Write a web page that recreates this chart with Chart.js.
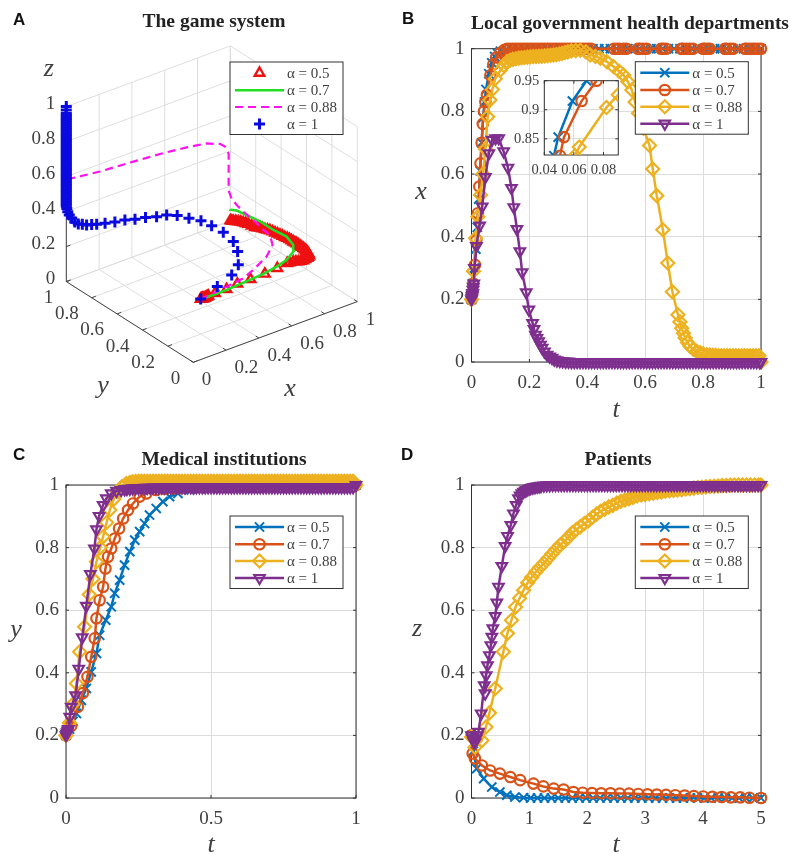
<!DOCTYPE html>
<html>
<head>
<meta charset="utf-8">
<script src="https://cdn.jsdelivr.net/npm/chart.js@4"></script>
<style>
body { margin: 0; background: #fff; }
canvas { position: absolute; }
</style>
</head>
<body>
<canvas id="chartA" width="395" height="425" style="left:0;top:0"></canvas>
<canvas id="chartB" width="391" height="425" style="left:400px;top:0"></canvas>
<canvas id="inset" width="125" height="120" style="left:500px;top:60px"></canvas>
<canvas id="chartC" width="395" height="424" style="left:0;top:430px"></canvas>
<canvas id="chartD" width="391" height="424" style="left:400px;top:430px"></canvas>
<script>
// legend labels and tick labels
const alphaLabels = ['α = 0.5', 'α = 0.7', 'α = 0.88', 'α = 1'];
const shareTicks = [0, 0.2, 0.4, 0.6, 0.8, 1];
const tTicksB = [0, 0.2, 0.4, 0.6, 0.8, 1];
const tTicksC = [0, 0.5, 1];
const tTicksD = [0, 1, 2, 3, 4, 5];
const insetTTicks = [0.04, 0.06, 0.08];
const insetVTicks = [0.85, 0.9, 0.95];

// panel A, the (x, y, z) paths
const a05X = [0.2,0.205,0.21,0.215,0.22,0.225,0.23,0.24,0.25,0.26,0.27,0.322,0.401,0.486,0.586,0.695,0.788,0.867,0.885,0.911,0.926,0.941,0.959,0.977,0.989,1,1,1,1,1,1,1,1,1,1,1,1,1,1,1,1,1,1,1,1,1,1,1,1,1,1,1,1,1,1,1,1,1,1,1,1,1,1,1,1,1];
const a05Y = [0.2,0.2,0.205,0.205,0.21,0.21,0.21,0.215,0.22,0.225,0.23,0.245,0.256,0.281,0.306,0.334,0.356,0.38,0.385,0.389,0.388,0.388,0.392,0.395,0.395,0.394,0.386,0.378,0.382,0.386,0.395,0.404,0.414,0.425,0.438,0.451,0.464,0.478,0.491,0.504,0.519,0.535,0.552,0.57,0.59,0.609,0.628,0.648,0.668,0.688,0.707,0.727,0.746,0.766,0.786,0.806,0.832,0.858,0.878,0.898,0.918,0.937,0.957,0.976,0.988,1];
const a05Z = [0.2,0.198,0.196,0.195,0.193,0.191,0.19,0.187,0.185,0.182,0.18,0.17,0.16,0.15,0.13,0.11,0.1,0.09,0.085,0.08,0.075,0.07,0.065,0.06,0.063,0.067,0.077,0.087,0.093,0.099,0.102,0.105,0.107,0.109,0.11,0.11,0.111,0.112,0.111,0.11,0.11,0.11,0.108,0.105,0.103,0.101,0.098,0.095,0.092,0.089,0.084,0.078,0.074,0.069,0.061,0.053,0.05,0.048,0.043,0.038,0.032,0.025,0.018,0.01,0.006,0.002];
const a07X = [0.2,0.294,0.387,0.483,0.569,0.668,0.774,0.863,0.951,1,1,1,1,1,1,1,1];
const a07Y = [0.2,0.223,0.237,0.27,0.289,0.311,0.343,0.38,0.44,0.504,0.556,0.66,0.766,0.871,0.95,0.997,1];
const a07Z = [0.2,0.18,0.17,0.15,0.14,0.13,0.12,0.11,0.1,0.091,0.115,0.105,0.105,0.093,0.082,0.065,0.065];
const a088X = [0.2,0.283,0.398,0.49,0.568,0.69,0.773,1,1,1,1,1,1,0.99,0.99,0.99,0.99,0.967,0.937,0.896,0.856,0.795,0.734,0.653,0.571,0.49,0.409,0.307,0.205,0.104,0.033,0];
const a088Y = [0.2,0.208,0.225,0.239,0.262,0.314,0.374,0.688,0.74,0.819,0.898,0.95,0.99,1,1,1,1,1,1,1,1,1,1,1,1,1,1,1,1,1,1,1];
const a088Z = [0.2,0.2,0.2,0.2,0.21,0.22,0.23,0.064,0.069,0.09,0.1,0.114,0.133,0.177,0.272,0.349,0.387,0.436,0.462,0.476,0.493,0.503,0.512,0.522,0.531,0.537,0.544,0.551,0.558,0.57,0.579,0.581];
const a1X = [0.2,0.34,0.444,0.499,0.577,0.621,0.639,0.633,0.602,0.538,0.478,0.43,0.381,0.322,0.271,0.218,0.167,0.131,0.104,0.088,0.072,0.059,0.046,0.034,0.023,0.012,0.005,0,0,0,0,0,0,0,0,0,0,0,0,0,0,0,0,0,0,0,0,0,0,0,0,0,0,0,0,0,0,0,0,0,0,0,0,0,0,0,0,0,0,0,0,0,0,0,0,0,0,0,0,0,0,0,0,0];
const a1Y = [0.2,0.25,0.271,0.29,0.396,0.487,0.589,0.673,0.717,0.729,0.744,0.765,0.781,0.792,0.809,0.82,0.833,0.864,0.895,0.914,0.933,0.95,0.965,0.977,0.987,0.992,0.995,0.996,1,1,1,1,1,1,1,1,1,1,1,1,1,1,1,1,1,1,1,1,1,1,1,1,1,1,1,1,1,1,1,1,1,1,1,1,1,1,1,1,1,1,1,1,1,1,1,1,1,1,1,1,1,1,1,1];
const a1Z = [0.2,0.2,0.22,0.25,0.25,0.25,0.25,0.25,0.27,0.3,0.33,0.34,0.34,0.35,0.35,0.36,0.36,0.35,0.34,0.335,0.33,0.33,0.33,0.34,0.36,0.38,0.4,0.42,0.43,0.44,0.45,0.46,0.47,0.48,0.49,0.5,0.51,0.52,0.53,0.54,0.55,0.56,0.57,0.58,0.59,0.6,0.61,0.62,0.63,0.64,0.65,0.66,0.67,0.68,0.69,0.7,0.71,0.72,0.73,0.74,0.75,0.76,0.77,0.78,0.79,0.8,0.81,0.82,0.83,0.84,0.85,0.86,0.87,0.88,0.89,0.9,0.91,0.92,0.93,0.94,0.95,0.96,0.98,1];

// panel B, x against t
const b05T = [0,0.005,0.01,0.015,0.02,0.025,0.03,0.035,0.04,0.045,0.05,0.06,0.07,0.08,0.09,0.1,0.12,0.14,0.16,0.18,0.2,0.22,0.24,0.26,0.28,0.3,0.32,0.34,0.36,0.38,0.4,0.42,0.44,0.46,0.48,0.5,0.52,0.54,0.56,0.58,0.6,0.62,0.64,0.66,0.68,0.7,0.72,0.74,0.76,0.78,0.8,0.82,0.84,0.86,0.88,0.9,0.92,0.94,0.96,0.98,1];
const b05V = [0.2,0.25,0.3,0.36,0.43,0.52,0.61,0.7,0.78,0.83,0.87,0.92,0.955,0.975,0.985,0.992,0.998,1,1,1,1,1,1,1,1,1,1,1,1,1,1,1,1,1,1,1,1,1,1,1,1,1,1,1,1,1,1,1,1,1,1,1,1,1,1,1,1,1,1,1,1];
const b07T = [0,0.006,0.012,0.017,0.022,0.027,0.031,0.035,0.039,0.043,0.048,0.0533,0.0652,0.0753,0.085,0.1,0.113,0.123,0.133,0.143,0.153,0.163,0.173,0.183,0.193,0.203,0.213,0.223,0.233,0.243,0.253,0.263,0.273,0.283,0.293,0.303,0.313,0.323,0.333,0.343,0.353,0.363,0.373,0.383,0.393,0.403,0.413,0.492,0.502,0.512,0.525,0.535,0.575,0.582,0.593,0.605,0.655,0.662,0.672,0.725,0.731,0.742,0.754,0.765,0.8,0.806,0.815,0.823,0.875,0.881,0.893,0.904,0.945,0.95,0.96,0.97,0.979,0.99,1];
const b07V = [0.2,0.25,0.31,0.39,0.475,0.56,0.634,0.7,0.76,0.8,0.83,0.853,0.915,0.95,0.972,0.988,0.996,1,1,1,1,1,1,1,1,1,1,1,1,1,1,1,1,1,1,1,1,1,1,1,1,1,1,1,1,1,1,1,1,1,1,1,1,1,1,1,1,1,1,1,1,1,1,1,1,1,1,1,1,1,1,1,1,1,1,1,1,1,1];
const b088T = [0,0.007,0.014,0.022,0.031,0.04,0.048,0.056,0.0636,0.072,0.082,0.1,0.112,0.123,0.133,0.143,0.153,0.163,0.173,0.183,0.193,0.203,0.213,0.223,0.233,0.243,0.253,0.263,0.273,0.283,0.293,0.303,0.313,0.323,0.333,0.345,0.36,0.376,0.395,0.41,0.428,0.445,0.468,0.49,0.51,0.525,0.54,0.554,0.565,0.577,0.594,0.615,0.626,0.64,0.661,0.678,0.694,0.713,0.72,0.726,0.732,0.738,0.746,0.755,0.766,0.778,0.79,0.8,0.813,0.823,0.833,0.843,0.853,0.863,0.873,0.883,0.893,0.903,0.913,0.923,0.933,0.943,0.953,0.963,0.973,0.983,0.993,1];
const b088V = [0.2,0.29,0.395,0.464,0.533,0.6,0.68,0.783,0.836,0.87,0.904,0.932,0.946,0.959,0.963,0.966,0.968,0.97,0.971,0.972,0.973,0.974,0.975,0.975,0.976,0.976,0.977,0.978,0.979,0.98,0.981,0.983,0.985,0.988,0.99,0.993,0.994,0.995,0.99,0.98,0.975,0.97,0.958,0.943,0.928,0.916,0.895,0.868,0.83,0.794,0.746,0.691,0.616,0.531,0.422,0.316,0.224,0.151,0.128,0.108,0.092,0.077,0.062,0.05,0.041,0.034,0.029,0.026,0.023,0.022,0.021,0.021,0.02,0.02,0.02,0.02,0.02,0.02,0.02,0.02,0.02,0.02,0.02,0.02,0.02,0.02,0.02,0];
const b1T = [0,0.001,0.002,0.003,0.004,0.005,0.006,0.008,0.01,0.017,0.028,0.037,0.048,0.06,0.071,0.083,0.094,0.111,0.126,0.138,0.146,0.157,0.167,0.175,0.189,0.198,0.211,0.216,0.221,0.226,0.232,0.238,0.244,0.252,0.261,0.27,0.278,0.286,0.295,0.305,0.315,0.325,0.335,0.345,0.355,0.365,0.375,0.385,0.395,0.405,0.415,0.425,0.435,0.445,0.455,0.465,0.475,0.485,0.495,0.505,0.515,0.525,0.535,0.545,0.555,0.565,0.575,0.585,0.595,0.605,0.615,0.625,0.635,0.645,0.655,0.665,0.675,0.685,0.695,0.705,0.715,0.725,0.735,0.745,0.755,0.765,0.775,0.785,0.795,0.805,0.815,0.825,0.835,0.845,0.855,0.865,0.875,0.885,0.895,0.905,0.915,0.925,0.935,0.945,0.955,0.965,0.975,0.985,0.995,1];
const b1V = [0.2,0.205,0.21,0.215,0.22,0.23,0.24,0.25,0.3,0.37,0.435,0.496,0.59,0.666,0.709,0.714,0.714,0.672,0.62,0.555,0.494,0.424,0.353,0.286,0.222,0.167,0.124,0.105,0.087,0.076,0.066,0.055,0.045,0.033,0.023,0.017,0.013,0.008,0.005,0.003,0.002,0.001,0.001,0,0,0,0,0,0,0,0,0,0,0,0,0,0,0,0,0,0,0,0,0,0,0,0,0,0,0,0,0,0,0,0,0,0,0,0,0,0,0,0,0,0,0,0,0,0,0,0,0,0,0,0,0,0,0,0,0,0,0,0,0,0,0,0,0,0,0];

// zoomed part of panel B
const in05T = [0.0465,0.0494,0.059,0.0685];
const in05V = [0.821,0.853,0.915,0.95];
const in07T = [0.0506,0.0533,0.0652,0.0753];
const in07V = [0.821,0.853,0.915,0.95];
const in088T = [0.0607,0.0636,0.082,0.09];
const in088V = [0.821,0.836,0.904,0.926];

// panel C, y against t
const c05T = [0,0.012,0.024,0.036,0.053,0.07,0.087,0.105,0.116,0.137,0.156,0.168,0.185,0.202,0.22,0.237,0.254,0.271,0.288,0.311,0.334,0.357,0.386,0.426,0.46,0.5,0.54,0.58,0.62,0.66,0.7,0.74,0.78,0.82,0.86,0.9,0.94,0.98,1];
const c05V = [0.2,0.22,0.245,0.27,0.312,0.35,0.403,0.462,0.52,0.568,0.611,0.654,0.696,0.744,0.787,0.824,0.851,0.877,0.904,0.925,0.947,0.963,0.973,0.984,0.988,0.99,0.992,0.994,0.995,0.996,0.997,0.998,0.998,0.999,0.999,1,1,1,1];
const c07T = [0,0.018,0.041,0.058,0.074,0.087,0.099,0.105,0.116,0.128,0.136,0.145,0.156,0.168,0.183,0.197,0.214,0.231,0.254,0.277,0.311,0.34,0.37,0.4,0.44,0.48,0.52,0.56,0.6,0.64,0.68,0.72,0.76,0.8,0.84,0.88,0.92,0.96,1];
const c07V = [0.2,0.23,0.291,0.335,0.387,0.451,0.51,0.574,0.632,0.675,0.733,0.771,0.797,0.829,0.861,0.893,0.92,0.941,0.963,0.973,0.984,0.987,0.989,0.99,0.992,0.994,0.995,0.996,0.997,0.998,0.998,0.999,0.999,1,1,1,1,1,1];
const c088T = [0,0.012,0.024,0.036,0.047,0.064,0.08,0.093,0.105,0.118,0.128,0.14,0.151,0.165,0.179,0.193,0.208,0.22,0.23,0.24,0.25,0.26,0.27,0.28,0.29,0.3,0.31,0.32,0.33,0.34,0.35,0.36,0.37,0.38,0.39,0.4,0.41,0.42,0.43,0.44,0.45,0.46,0.47,0.48,0.49,0.5,0.51,0.52,0.53,0.54,0.55,0.56,0.57,0.58,0.59,0.6,0.61,0.62,0.63,0.64,0.65,0.66,0.67,0.68,0.69,0.7,0.71,0.72,0.73,0.74,0.75,0.76,0.77,0.78,0.79,0.8,0.81,0.82,0.83,0.84,0.85,0.86,0.87,0.88,0.89,0.9,0.91,0.92,0.93,0.94,0.95,0.96,0.97,0.98,0.99,1];
const c088V = [0.2,0.24,0.3,0.366,0.467,0.547,0.65,0.7,0.755,0.8,0.835,0.88,0.92,0.955,0.979,0.995,1.005,1.008,1.01,1.011,1.012,1.012,1.012,1.012,1.012,1.012,1.012,1.012,1.012,1.012,1.012,1.012,1.012,1.012,1.012,1.012,1.012,1.012,1.012,1.012,1.012,1.012,1.012,1.012,1.012,1.012,1.012,1.012,1.012,1.012,1.012,1.012,1.012,1.012,1.012,1.012,1.012,1.012,1.012,1.012,1.012,1.012,1.012,1.012,1.012,1.012,1.012,1.012,1.012,1.012,1.012,1.012,1.012,1.012,1.012,1.012,1.012,1.012,1.012,1.012,1.012,1.012,1.012,1.012,1.012,1.012,1.012,1.012,1.012,1.012,1.012,1.012,1.012,1.012,1.012,1];
const c1T = [0,0.002,0.004,0.006,0.008,0.013,0.018,0.033,0.044,0.056,0.07,0.084,0.098,0.105,0.114,0.128,0.139,0.156,0.174,0.19,0.202,0.21,0.22,0.23,0.24,0.25,0.26,0.27,0.28,0.29,0.3,0.31,0.32,0.33,0.34,0.35,0.36,0.37,0.38,0.39,0.4,0.41,0.42,0.43,0.44,0.45,0.46,0.47,0.48,0.49,0.5,0.51,0.52,0.53,0.54,0.55,0.56,0.57,0.58,0.59,0.6,0.61,0.62,0.63,0.64,0.65,0.66,0.67,0.68,0.69,0.7,0.71,0.72,0.73,0.74,0.75,0.76,0.77,0.78,0.79,0.8,0.81,0.82,0.83,0.84,0.85,0.86,0.87,0.88,0.89,0.9,0.91,0.92,0.93,0.94,0.95,0.96,0.97,0.98,0.99,1];
const c1V = [0.2,0.205,0.21,0.215,0.22,0.259,0.291,0.328,0.413,0.513,0.614,0.715,0.797,0.858,0.901,0.936,0.957,0.973,0.981,0.984,0.986,0.987,0.988,0.989,0.99,0.99,0.99,0.991,0.991,0.991,0.992,0.992,0.992,0.992,0.992,0.993,0.993,0.993,0.993,0.993,0.993,0.993,0.993,0.993,0.993,0.993,0.993,0.993,0.993,0.993,0.993,0.993,0.993,0.993,0.993,0.993,0.993,0.993,0.993,0.993,0.993,0.993,0.993,0.993,0.993,0.993,0.993,0.993,0.993,0.993,0.993,0.993,0.993,0.993,0.993,0.993,0.993,0.993,0.993,0.993,0.993,0.993,0.993,0.993,0.993,0.993,0.993,0.993,0.993,0.993,0.993,0.993,0.993,0.993,0.993,0.993,0.993,0.993,0.993,0.993,1];

// panel D, z against t
const d05T = [0,0.03,0.09,0.21,0.35,0.49,0.61,0.75,0.9,1.02,1.14,1.26,1.38,1.5,1.62,1.74,1.86,1.98,2.1,2.22,2.34,2.46,2.58,2.7,2.82,2.94,3.06,3.18,3.3,3.42,3.54,3.66,3.78,3.9,4.02,4.14,4.26,4.38,4.5,4.62,4.74,4.86,5];
const d05V = [0.2,0.15,0.094,0.062,0.035,0.019,0.009,0.003,0.001,0,0,0,0,0,0,0,0,0,0,0,0,0,0,0,0,0,0,0,0,0,0,0,0,0,0,0,0,0,0,0,0,0,0];
const d07T = [0,0.02,0.06,0.18,0.32,0.49,0.67,0.84,1.07,1.24,1.42,1.59,1.76,1.92,2.08,2.24,2.4,2.56,2.72,2.88,3.04,3.2,3.36,3.52,3.68,3.84,4,4.16,4.32,4.48,4.64,4.8,5];
const d07V = [0.2,0.142,0.126,0.104,0.088,0.078,0.067,0.057,0.046,0.037,0.03,0.027,0.019,0.017,0.016,0.015,0.015,0.014,0.014,0.013,0.012,0.011,0.01,0.009,0.008,0.006,0.005,0.004,0.003,0.002,0.002,0.001,0];
const d088T = [0,0.06,0.18,0.25,0.31,0.41,0.55,0.62,0.69,0.76,0.83,0.9,0.97,1.04,1.11,1.18,1.25,1.32,1.39,1.46,1.53,1.6,1.67,1.74,1.81,1.88,1.95,2.02,2.09,2.16,2.23,2.3,2.37,2.44,2.51,2.58,2.65,2.72,2.79,2.86,2.93,3,3.07,3.14,3.21,3.28,3.35,3.42,3.49,3.56,3.63,3.7,3.77,3.84,3.91,3.98,4.05,4.12,4.19,4.26,4.33,4.4,4.47,4.54,4.61,4.68,4.75,4.82,4.89,4.96,5];
const d088V = [0.195,0.162,0.184,0.227,0.272,0.35,0.467,0.526,0.568,0.61,0.638,0.664,0.688,0.705,0.722,0.737,0.75,0.765,0.78,0.795,0.808,0.82,0.832,0.847,0.858,0.867,0.877,0.886,0.897,0.907,0.916,0.923,0.93,0.935,0.942,0.948,0.952,0.956,0.96,0.965,0.968,0.97,0.972,0.974,0.976,0.978,0.98,0.982,0.983,0.984,0.985,0.987,0.988,0.99,0.992,0.993,0.994,0.995,0.996,0.997,0.998,0.998,0.999,1,1,1,1,1,1,1,1];
const d1T = [0,0.02,0.04,0.06,0.08,0.1,0.12,0.167,0.22,0.236,0.253,0.276,0.31,0.334,0.351,0.368,0.41,0.437,0.466,0.524,0.581,0.622,0.679,0.725,0.771,0.811,0.84,0.869,0.9,0.93,0.955,0.99,1.02,1.05,1.08,1.11,1.14,1.17,1.2,1.25,1.3,1.35,1.4,1.45,1.5,1.55,1.6,1.65,1.7,1.75,1.8,1.85,1.9,1.95,2,2.05,2.1,2.15,2.2,2.25,2.3,2.35,2.4,2.45,2.5,2.55,2.6,2.65,2.7,2.75,2.8,2.85,2.9,2.95,3,3.05,3.1,3.15,3.2,3.25,3.3,3.35,3.4,3.45,3.5,3.55,3.6,3.65,3.7,3.75,3.8,3.85,3.9,3.95,4,4.05,4.1,4.15,4.2,4.25,4.3,4.35,4.4,4.45,4.5,4.55,4.6,4.65,4.7,4.75,4.8,4.85,4.9,4.95,5];
const d1V = [0.2,0.19,0.18,0.178,0.19,0.2,0.211,0.27,0.36,0.334,0.392,0.424,0.456,0.488,0.515,0.542,0.581,0.624,0.675,0.741,0.805,0.837,0.872,0.909,0.936,0.957,0.966,0.973,0.978,0.982,0.984,0.988,0.99,0.992,0.993,0.994,0.995,0.996,0.997,0.998,0.999,0.999,1,1,1,1,1,1,1,1,1,1,1,1,1,1,1,1,1,1,1,1,1,1,1,1,1,1,1,1,1,1,1,1,1,1,1,1,1,1,1,1,1,1,1,1,1,1,1,1,1,1,1,1,1,1,1,1,1,1,1,1,1,1,1,1,1,1,1,1,1,1,1,1,1];

const serif = '"Liberation Serif", serif';
const inkColor = '#404040';
const matlabStyles = [
    { color: '#0072BD', pointStyle: 'crossRot', radius: 6.5, borderWidth: 2, rotation: 0 },
    { color: '#D95319', pointStyle: 'circle', radius: 5.2, borderWidth: 2.2, rotation: 0 },
    { color: '#EDB120', pointStyle: 'rectRot', radius: 6.5, borderWidth: 2.2, rotation: 0 },
    { color: '#7E2F8E', pointStyle: 'triangle', radius: 6, borderWidth: 2.2, rotation: 180 }
];
const styles3d = [
    { color: '#EE1111', pointStyle: 'triangle', radius: 5.5, borderWidth: 2.4, rotation: 0, noLine: true },
    { color: '#22DD22', lineWidth: 2.5, noPoint: true },
    { color: '#FF11EE', lineWidth: 2.2, dash: [8, 5], noPoint: true },
    { color: '#0A0AE0', pointStyle: 'cross', radius: 5.5, borderWidth: 3, rotation: 0, noLine: true }
];

function drawMarker(ctx, s, x, y) {
    ctx.save();
    ctx.strokeStyle = s.color;
    ctx.fillStyle = 'rgba(0,0,0,0)';
    ctx.lineWidth = s.borderWidth;
    Chart.helpers.drawPoint(ctx, s, x, y);
    ctx.restore();
}

// box ticks, panel text and the legend
const panelDeco = {
    id: 'panelDeco',
    beforeDatasetsDraw(chart, args, opts) {
        if (!opts.box) return;
        const ctx = chart.ctx, a = chart.chartArea;
        ctx.save();
        ctx.strokeStyle = '#333';
        ctx.lineWidth = 1;
        ctx.strokeRect(a.left, a.top, a.width, a.height);
        ctx.beginPath();
        chart.scales.x.ticks.forEach(t => {
            const p = chart.scales.x.getPixelForValue(t.value);
            ctx.moveTo(p, a.bottom); ctx.lineTo(p, a.bottom - 3);
            ctx.moveTo(p, a.top); ctx.lineTo(p, a.top + 3);
        });
        chart.scales.y.ticks.forEach(t => {
            const p = chart.scales.y.getPixelForValue(t.value);
            ctx.moveTo(a.left, p); ctx.lineTo(a.left + 3, p);
            ctx.moveTo(a.right, p); ctx.lineTo(a.right - 3, p);
        });
        ctx.stroke();
        ctx.restore();
    },
    afterDraw(chart, args, opts) {
        const ctx = chart.ctx;
        ctx.save();
        (opts.texts || []).forEach(t => {
            ctx.font = t.font;
            ctx.fillStyle = t.color || inkColor;
            ctx.textAlign = t.align || 'center';
            ctx.textBaseline = 'middle';
            ctx.fillText(t.text, t.x, t.y);
        });
        if (opts.legend) {
            const L = opts.legend;
            ctx.fillStyle = '#fff';
            ctx.fillRect(L.x, L.y, 113, 72.5);
            ctx.strokeStyle = '#333';
            ctx.lineWidth = 1;
            ctx.strokeRect(L.x, L.y, 113, 72.5);
            L.styles.forEach((s, i) => {
                const y = L.y + [11, 28.3, 45, 62][i];
                if (!s.noLine) {
                    ctx.save();
                    ctx.strokeStyle = s.color;
                    ctx.lineWidth = s.lineWidth || 2.5;
                    ctx.setLineDash(s.dash || []);
                    ctx.beginPath();
                    ctx.moveTo(L.x + 5, y);
                    ctx.lineTo(L.x + 54, y);
                    ctx.stroke();
                    ctx.restore();
                }
                if (!s.noPoint) drawMarker(ctx, s, L.x + 29.5, y);
                ctx.font = '15px ' + serif;
                ctx.fillStyle = inkColor;
                ctx.textAlign = 'left';
                ctx.textBaseline = 'middle';
                ctx.fillText(alphaLabels[i], L.x + 57, y + 1);
            });
        }
        ctx.restore();
    }
};
Chart.register(panelDeco);

const pts = (t, v) => t.map((x, i) => ({ x, y: v[i] }));

// Chart.js paints the lowest order last, later series have to sit on top
function stack(sets) {
    sets.forEach((d, i) => { d.order = -i; });
    return sets;
}

function lineSet(label, t, v, s) {
    return {
        label, data: pts(t, v), showLine: true, clip: false,
        borderColor: s.color, borderWidth: 2.5,
        pointStyle: s.pointStyle, pointRadius: s.radius,
        pointBorderWidth: s.borderWidth, pointRotation: s.rotation,
        pointBackgroundColor: 'rgba(0,0,0,0)', pointBorderColor: s.color
    };
}

function axis(min, max, tickList, fontSize, pad, extra) {
    return Object.assign({
        type: 'linear', min, max,
        afterBuildTicks: sc => { sc.ticks = tickList.map(value => ({ value })); },
        grid: { color: '#dcdcdc', lineWidth: 1, drawTicks: false },
        border: { display: false },
        ticks: {
            autoSkip: false, maxRotation: 0, color: inkColor, padding: pad,
            font: { family: serif, size: fontSize },
            callback: v => String(v)
        }
    }, extra);
}

// 2D panels share everything except their series and text
function makePanel(id, seriesList, tMax, tTicks, geom, deco) {
    return new Chart(document.getElementById(id), {
        type: 'scatter',
        data: { datasets: stack(seriesList.map((d, i) => lineSet(alphaLabels[i], d[0], d[1], matlabStyles[i]))) },
        options: {
            responsive: false, animation: false,
            layout: { autoPadding: false, padding: { left: 0, top: geom.top, right: geom.right, bottom: 0 } },
            plugins: { legend: { display: false }, tooltip: { enabled: false }, panelDeco: deco },
            scales: {
                x: axis(0, tMax, tTicks, 19, 10, { afterFit: s => { s.height = geom.below; } }),
                y: axis(0, 1, shareTicks, 19, 7, { afterFit: s => { s.width = geom.left; } })
            }
        }
    });
}

makePanel('chartB', [[b05T, b05V], [b07T, b07V], [b088T, b088V], [b1T, b1V]], 1, tTicksB,
    { left: 71.5, top: 48.7, right: 30, below: 63 },
    { box: true, legend: { x: 235.3, y: 61.7, styles: matlabStyles }, texts: [
        { text: 'B', x: 2, y: 19, font: 'bold 17px "Liberation Sans"', align: 'left', color: '#111' },
        { text: 'Local government health departments', x: 230, y: 24, font: 'bold 19.5px ' + serif, color: '#222' },
        { text: 'x', x: 21, y: 192, font: 'italic 26px ' + serif },
        { text: 't', x: 216, y: 410, font: 'italic 26px ' + serif }
    ] });

makePanel('chartC', [[c05T, c05V], [c07T, c07V], [c088T, c088V], [c1T, c1V]], 1, tTicksC,
    { left: 66, top: 55, right: 39, below: 56 },
    { box: true, legend: { x: 230, y: 86, styles: matlabStyles }, texts: [
        { text: 'C', x: 13, y: 25, font: 'bold 17px "Liberation Sans"', align: 'left', color: '#111' },
        { text: 'Medical institutions', x: 224, y: 30, font: 'bold 19.5px ' + serif, color: '#222' },
        { text: 'y', x: 16, y: 200, font: 'italic 26px ' + serif },
        { text: 't', x: 211, y: 415, font: 'italic 26px ' + serif }
    ] });

makePanel('chartD', [[d05T, d05V], [d07T, d07V], [d088T, d088V], [d1T, d1V]], 5, tTicksD,
    { left: 71.5, top: 55, right: 30, below: 56 },
    { box: true, legend: { x: 235.3, y: 86, styles: matlabStyles }, texts: [
        { text: 'D', x: 1, y: 25, font: 'bold 17px "Liberation Sans"', align: 'left', color: '#111' },
        { text: 'Patients', x: 218, y: 30, font: 'bold 19.5px ' + serif, color: '#222' },
        { text: 'z', x: 17, y: 199, font: 'italic 26px ' + serif },
        { text: 't', x: 216, y: 415, font: 'italic 26px ' + serif }
    ] });

// white plot background for the inset, drawn before its grid
const insetBack = {
    id: 'insetBack',
    beforeDraw(chart) {
        const a = chart.chartArea;
        chart.ctx.fillStyle = '#fff';
        chart.ctx.fillRect(a.left, a.top, a.width, a.height);
    }
};

// zoomed inset over panel B
new Chart(document.getElementById('inset'), {
    type: 'scatter',
    plugins: [insetBack],
    data: { datasets: stack([[in05T, in05V], [in07T, in07V], [in088T, in088V]].map((d, i) => {
        const ds = lineSet(alphaLabels[i], d[0], d[1], matlabStyles[i]);
        ds.clip = true;
        return ds;
    })) },
    options: {
        responsive: false, animation: false,
        layout: { autoPadding: false, padding: { left: 0, top: 20.7, right: 6.7, bottom: 0 } },
        plugins: { legend: { display: false }, tooltip: { enabled: false }, panelDeco: { box: true } },
        scales: {
            x: axis(0.04, 0.09, insetTTicks, 14.5, 6, { afterFit: s => { s.height = 25; } }),
            y: axis(0.8222, 0.95, insetVTicks, 14.5, 5, { afterFit: s => { s.width = 44.3; } })
        }
    }
});

// panel A: the 3D box is an oblique projection onto a scatter chart in canvas units
function project(x, y, z) {
    return {
        x: 193.3 + 164 * x - 127 * y,
        y: 362.3 - 60.7 * x - 80.7 * y - 175 * z
    };
}

function seg(p, q, color, width) {
    return {
        data: [project(p[0], p[1], p[2]), project(q[0], q[1], q[2])],
        showLine: true, borderColor: color, borderWidth: width, pointRadius: 0
    };
}

function path3d(xs, ys, zs, s) {
    return {
        data: xs.map((x, i) => project(x, ys[i], zs[i])),
        showLine: !s.noLine, clip: false,
        borderColor: s.color, borderWidth: s.lineWidth || 2, borderDash: s.dash || [],
        pointStyle: s.pointStyle || 'circle', pointRadius: s.noPoint ? 0 : s.radius,
        pointBorderWidth: s.borderWidth, pointRotation: s.rotation || 0,
        pointBackgroundColor: 'rgba(0,0,0,0)', pointBorderColor: s.color
    };
}

const boxLines = [];
const wallColor = '#dedede';
shareTicks.forEach(t => {
    boxLines.push(seg([t, 0, 0], [t, 1, 0], wallColor, 1));
    boxLines.push(seg([0, t, 0], [1, t, 0], wallColor, 1));
    boxLines.push(seg([t, 1, 0], [t, 1, 1], wallColor, 1));
    boxLines.push(seg([0, 1, t], [1, 1, t], wallColor, 1));
    boxLines.push(seg([1, t, 0], [1, t, 1], wallColor, 1));
    boxLines.push(seg([1, 0, t], [1, 1, t], wallColor, 1));
});
const axisColor = '#444';
boxLines.push(seg([0, 0, 0], [1, 0, 0], axisColor, 1));
boxLines.push(seg([0, 0, 0], [0, 1, 0], axisColor, 1));
boxLines.push(seg([0, 1, 0], [0, 1, 1], axisColor, 1));
shareTicks.forEach(t => {
    boxLines.push(seg([t, 0, 0], [t, 0.025, 0], axisColor, 1));
    boxLines.push(seg([0, t, 0], [0.025, t, 0], axisColor, 1));
    boxLines.push(seg([0, 1, t], [0.025, 1, t], axisColor, 1));
});

const labelsA = [
    { text: 'A', x: 13, y: 20, font: 'bold 17px "Liberation Sans"', align: 'left', color: '#111' },
    { text: 'The game system', x: 214, y: 22, font: 'bold 19.5px ' + serif, color: '#222' },
    { text: 'z', x: 48.7, y: 69, font: 'italic 26px ' + serif },
    { text: 'y', x: 103, y: 386, font: 'italic 26px ' + serif },
    { text: 'x', x: 290, y: 389, font: 'italic 26px ' + serif }
];
shareTicks.forEach(t => {
    const px = project(t, 0, 0), py = project(0, t, 0), pz = project(0, 1, t);
    const font = '19px ' + serif;
    labelsA.push({ text: String(t), x: px.x + 8.5, y: px.y + 18, font, align: 'left' });
    labelsA.push({ text: String(t), x: py.x - 13, y: py.y + 16.5, font, align: 'right' });
    labelsA.push({ text: String(t), x: pz.x - 11, y: pz.y - 3, font, align: 'right' });
});

new Chart(document.getElementById('chartA'), {
    type: 'scatter',
    data: { datasets: stack(boxLines.concat([
        path3d(a05X, a05Y, a05Z, styles3d[0]),
        path3d(a07X, a07Y, a07Z, styles3d[1]),
        path3d(a088X, a088Y, a088Z, styles3d[2]),
        path3d(a1X, a1Y, a1Z, styles3d[3])
    ])) },
    options: {
        responsive: false, animation: false,
        layout: { autoPadding: false, padding: 0 },
        plugins: {
            legend: { display: false }, tooltip: { enabled: false },
            panelDeco: { legend: { x: 230, y: 62, styles: styles3d }, texts: labelsA }
        },
        scales: {
            x: { type: 'linear', min: 0, max: 395, display: false },
            y: { type: 'linear', min: 0, max: 425, reverse: true, display: false }
        }
    }
});
</script>
</body>
</html>
